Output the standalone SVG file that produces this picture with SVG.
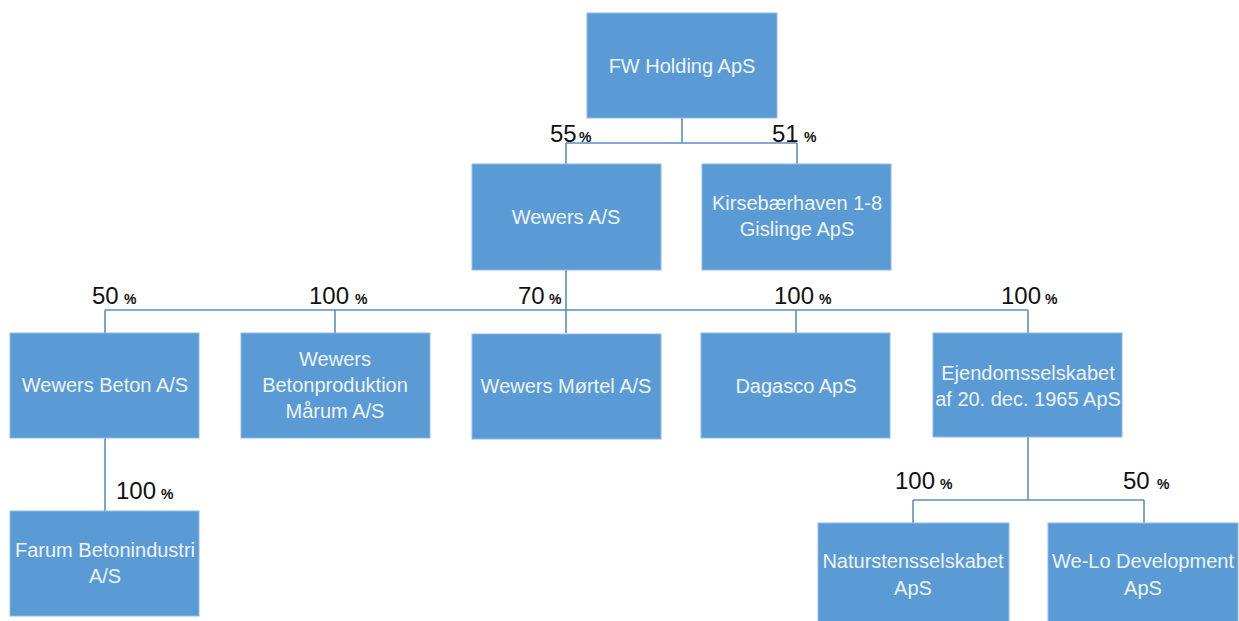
<svg xmlns="http://www.w3.org/2000/svg" width="1239" height="621" viewBox="0 0 1239 621">
<style>
.box{fill:#5b9bd5;stroke:#8fb9e3;stroke-width:1}
.t{font-family:"Liberation Sans",Arial,sans-serif;font-size:20px;fill:#eef3fa;text-anchor:middle}
.n{font-family:"Liberation Sans",Arial,sans-serif;font-size:24px;fill:#111}
.p{font-family:"Liberation Sans",Arial,sans-serif;font-size:14px;font-weight:bold;fill:#111}
.c{fill:none;stroke:#5b8fc7;stroke-width:1.6}
</style>
<rect width="1239" height="621" fill="#fff"/>
<g id="connectors">
<path class="c" d="M682 118V143M566 143H797M566 143V164M797 143V164"/>
<path class="c" d="M566 270V333M105 310H1028M105 310V333M335 310V333M796 310V333M1028 310V333"/>
<path class="c" d="M105 438V511"/>
<path class="c" d="M1028 437V500M913 500H1144M913 500V523M1144 500V523"/>
</g>
<g id="labels">
<text class="n" x="550" y="142">55</text><text class="p" x="579" y="142">%</text>
<text class="n" x="772" y="142">51</text><text class="p" x="804" y="142">%</text>
<text class="n" x="92" y="304">50</text><text class="p" x="124" y="304">%</text>
<text class="n" x="309" y="304">100</text><text class="p" x="355" y="304">%</text>
<text class="n" x="518" y="304">70</text><text class="p" x="549" y="304">%</text>
<text class="n" x="774" y="304">100</text><text class="p" x="819" y="304">%</text>
<text class="n" x="1001" y="304">100</text><text class="p" x="1045" y="304">%</text>
<text class="n" x="116" y="499">100</text><text class="p" x="161" y="499">%</text>
<text class="n" x="895" y="489">100</text><text class="p" x="940" y="489">%</text>
<text class="n" x="1123" y="489">50</text><text class="p" x="1157" y="489">%</text>
</g>
<g id="fw"><rect class="box" x="587" y="13" width="190" height="105"/><text class="t" x="682" y="73">FW Holding ApS</text></g>
<g id="wewers"><rect class="box" x="472" y="164" width="189" height="106"/><text class="t" x="566" y="224">Wewers A/S</text></g>
<g id="kirsebaer"><rect class="box" x="702" y="164" width="189" height="106"/><text class="t" x="797" y="210">Kirsebærhaven 1-8</text><text class="t" x="797" y="236">Gislinge ApS</text></g>
<g id="beton"><rect class="box" x="10" y="333" width="189" height="105"/><text class="t" x="105" y="392">Wewers Beton A/S</text></g>
<g id="betonprod"><rect class="box" x="241" y="333" width="189" height="105"/><text class="t" x="335" y="366">Wewers</text><text class="t" x="335" y="392">Betonproduktion</text><text class="t" x="335" y="418">Mårum A/S</text></g>
<g id="mortel"><rect class="box" x="472" y="334" width="189" height="105"/><text class="t" x="566" y="393">Wewers Mørtel A/S</text></g>
<g id="dagasco"><rect class="box" x="701" y="333" width="189" height="105"/><text class="t" x="796" y="393">Dagasco ApS</text></g>
<g id="ejendom"><rect class="box" x="933" y="333" width="189" height="104"/><text class="t" x="1028" y="380">Ejendomsselskabet</text><text class="t" x="1028" y="406">af 20. dec. 1965 ApS</text></g>
<g id="farum"><rect class="box" x="10" y="511" width="189" height="105"/><text class="t" x="105" y="557">Farum Betonindustri</text><text class="t" x="105" y="583">A/S</text></g>
<g id="natursten"><rect class="box" x="818" y="523" width="191" height="105"/><text class="t" x="913" y="568">Naturstensselskabet</text><text class="t" x="913" y="595">ApS</text></g>
<g id="welo"><rect class="box" x="1048" y="523" width="190" height="105"/><text class="t" x="1143" y="568">We-Lo Development</text><text class="t" x="1143" y="595">ApS</text></g>
</svg>
